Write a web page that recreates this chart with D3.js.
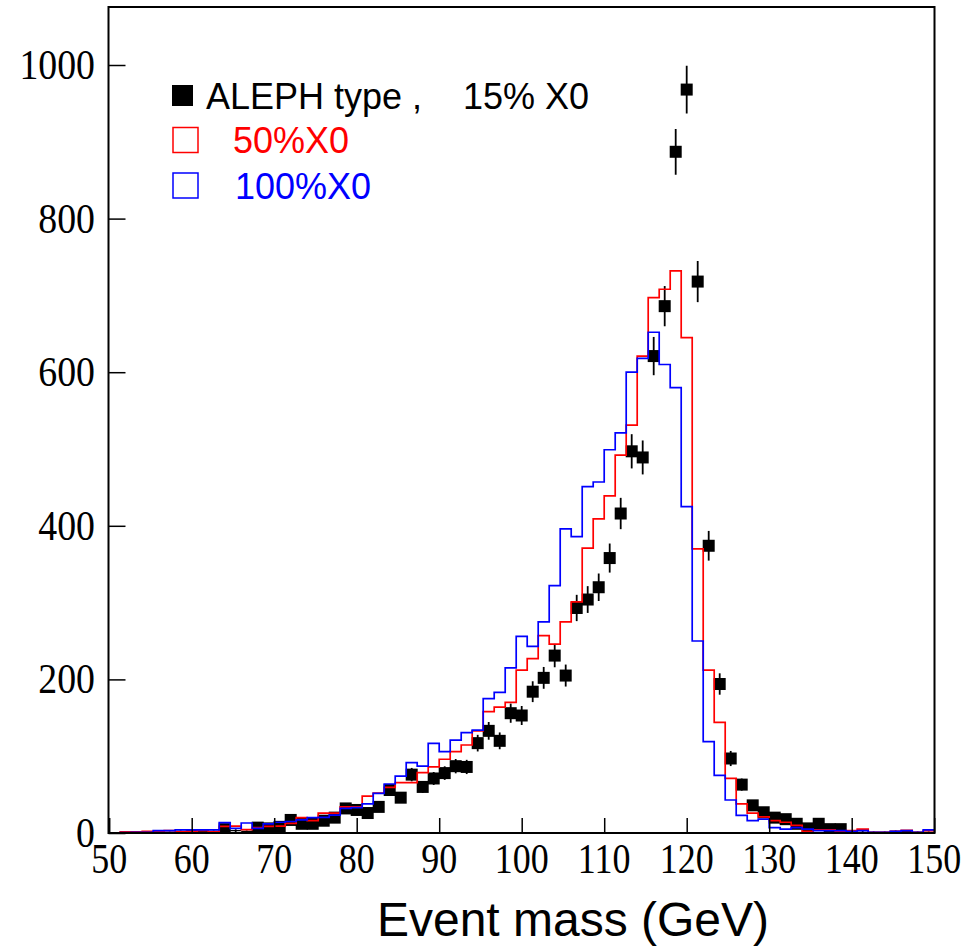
<!DOCTYPE html>
<html>
<head>
<meta charset="utf-8">
<script src="https://cdn.jsdelivr.net/npm/d3@7"></script>
<style>
  html, body { margin: 0; padding: 0; background: #fff; }
  svg { display: block; }
</style>
</head>
<body>
<svg id="chart" width="965" height="946"></svg>
<script>
// ---- data (75 bins of 4/3 GeV from 50 to 150) ----
const binLow = 50, binHigh = 150, nBins = 75;
const aleph15 = [0,1,1,1,2,1,2,3,2,2, 5,3,2,7,6,8,17,12,12,16, 20,32,30,26,34,56,46,76,60,71,
  78,87,86,117,133,120,156,153,184,202, 231,205,293,304,320,358,416,497,489,621,
  686,887,968,718,374,194,97,63,36,27, 20,18,12,6,12,5,5,2,3,1, 1,2,2,1,1];
const x0_50 = [0,1.5,1.5,2,2,3,1.5,2,3,1.5, 8.5,9,4.5,7,8.5,9,12.6,20,16,26,
  26,34,34,48,52,59.5,65.5,65.5,78.5,86, 96,106,114.6,133,158,164,170,212,227,257,
  246,275,301,371,409,439,492,531,621,697, 708,732,645,370,212,144,71,38,26,21,
  16,14,10,2,4,4,2,3,5,1, 1,2,3.5,1,3];
const x0_100 = [0,0.5,1,1,3,3,4,4,4,4, 13.5,6,13,6,12,14,15,17,20,20.4,
  23.4,32,33,37.8,51.6,63.8,74,91.6,87,116.7, 106,121,130.6,134,175,183,215,256,243,275,
  322,396,386,451,457,499,521,600,618,652, 610,580,425,250,119,75,43,23,16,18,
  7,5,7,5,3,3,3,2,3,1, 1,2,3,1,4];
const xTicks = [50,60,70,80,90,100,110,120,130,140,150];
const yTicks = [0,200,400,600,800,1000];
const legendLabels = ["ALEPH type ,", "15% X0", "50%X0", "100%X0"];
const xTitle = "Event mass (GeV)";

// ---- layout ----
const svg = d3.select("#chart");
const L = 108.5, R = 934.5, T = 7, B = 833;
const x = d3.scaleLinear().domain([binLow, binHigh]).range([109.2, 934.2]);
const y = d3.scaleLinear().domain([0, 1000]).range([B, 65]);
const bw = (binHigh - binLow) / nBins;
const edges = d3.range(nBins + 1).map(i => binLow + i * bw);

svg.append("defs").append("clipPath").attr("id", "plotclip")
  .append("rect").attr("x", L).attr("y", T).attr("width", R - L).attr("height", B - T);

const plot = svg.append("g").attr("clip-path", "url(#plotclip)");

// data points with error bars
const pts = aleph15.map((v, i) => ({c: binLow + (i + 0.5) * bw, v})).filter(d => d.v > 0);
plot.append("g").selectAll("line").data(pts).join("line")
  .attr("x1", d => x(d.c)).attr("x2", d => x(d.c))
  .attr("y1", d => y(d.v + Math.sqrt(d.v))).attr("y2", d => y(Math.max(0, d.v - Math.sqrt(d.v))))
  .attr("stroke", "#000").attr("stroke-width", 1.8);
plot.append("g").selectAll("rect").data(pts.filter(d => d.v >= 5)).join("rect")
  .attr("x", d => x(d.c) - 6).attr("y", d => y(d.v) - 6)
  .attr("width", 12).attr("height", 12).attr("fill", "#000");
plot.append("g").selectAll("line").data(pts.filter(d => d.v < 5)).join("line")
  .attr("x1", d => x(d.c) - 5.5).attr("x2", d => x(d.c) + 5.5)
  .attr("y1", d => y(d.v)).attr("y2", d => y(d.v))
  .attr("stroke", "#000").attr("stroke-width", 1.2);

// step histograms
const stepLine = d3.line().x(d => x(d[0])).y(d => y(d[1])).curve(d3.curveStepAfter);
function stepData(vals) {
  const arr = vals.map((v, i) => [edges[i], v]);
  arr.push([edges[nBins], vals[nBins - 1]]);
  return arr;
}
plot.append("path").datum(stepData(x0_50)).attr("d", stepLine)
  .attr("fill", "none").attr("stroke", "#ff0000").attr("stroke-width", 1.7);
plot.append("path").datum(stepData(x0_100)).attr("d", stepLine)
  .attr("fill", "none").attr("stroke", "#0000ff").attr("stroke-width", 1.7);

// frame
svg.append("rect").attr("x", L).attr("y", T).attr("width", R - L).attr("height", B - T)
  .attr("fill", "none").attr("stroke", "#000").attr("stroke-width", 2);

// axes (ticks inside)
const xAxis = d3.axisTop(x).tickValues(xTicks).tickSize(15).tickFormat("");
svg.append("g").attr("transform", `translate(0,${B})`).call(xAxis)
  .call(g => g.select(".domain").remove())
  .selectAll("line").attr("stroke", "#000").attr("stroke-width", 1.5);
const yAxis = d3.axisRight(y).tickValues(yTicks).tickSize(17).tickFormat("");
svg.append("g").attr("transform", `translate(${L},0)`).call(yAxis)
  .call(g => g.select(".domain").remove())
  .selectAll("line").attr("stroke", "#000").attr("stroke-width", 1.5);

// tick labels
const tickFont = "'Liberation Serif', 'Times New Roman', serif";
svg.append("g").selectAll("text").data(xTicks).join("text")
  .attr("transform", d => `translate(${x(d)},873) scale(1.0,1.2)`)
  .attr("text-anchor", "middle")
  .attr("font-family", tickFont).attr("font-size", 36).attr("fill", "#000")
  .text(d => d);
svg.append("g").selectAll("text").data(yTicks).join("text")
  .attr("transform", d => `translate(95,${y(d) + 14}) scale(1.05,1.2)`)
  .attr("text-anchor", "end")
  .attr("font-family", tickFont).attr("font-size", 36).attr("fill", "#000")
  .text(d => d);

// axis title
svg.append("text").attr("x", 573).attr("y", 936).attr("text-anchor", "middle")
  .attr("font-family", "'Liberation Sans', Arial, sans-serif").attr("font-size", 48)
  .attr("fill", "#000").text(xTitle);

// legend
const lf = "'Liberation Sans', Arial, sans-serif";
const leg = svg.append("g");
leg.append("rect").attr("x", 172).attr("y", 85).attr("width", 21).attr("height", 21).attr("fill", "#000");
const t1 = leg.append("text").attr("y", 109).attr("font-family", lf).attr("font-size", 36).attr("fill", "#000");
t1.append("tspan").attr("x", 206).text(legendLabels[0]);
t1.append("tspan").attr("x", 463).text(legendLabels[1]);
leg.append("rect").attr("x", 173).attr("y", 127.5).attr("width", 25).attr("height", 25)
  .attr("fill", "none").attr("stroke", "#ff0000").attr("stroke-width", 1.5);
leg.append("text").attr("x", 233).attr("y", 153).attr("font-family", lf).attr("font-size", 36)
  .attr("fill", "#ff0000").text(legendLabels[2]);
leg.append("rect").attr("x", 173).attr("y", 173).attr("width", 25).attr("height", 25)
  .attr("fill", "none").attr("stroke", "#0000ff").attr("stroke-width", 1.5);
leg.append("text").attr("x", 235).attr("y", 199).attr("font-family", lf).attr("font-size", 36)
  .attr("fill", "#0000ff").text(legendLabels[3]);
</script>
</body>
</html>
